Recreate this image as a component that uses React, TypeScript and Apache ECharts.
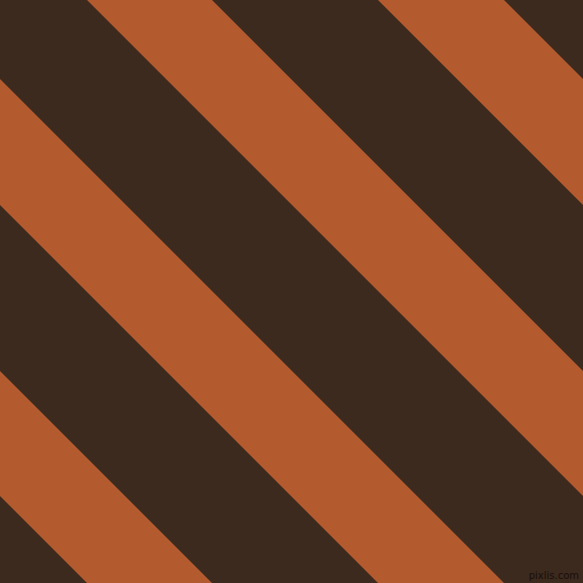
import { useEffect, useRef } from 'react';
import * as echarts from 'echarts';

// stripe bands as offsets of the line x - y = c (pixels of a 583 x 583 field)
const bandStarts = [-496, -205, 87, 378];
const bandEnds = [-371, -79, 212, 504];
const fieldSize = 583;

const App = () => {
  const chartRef = useRef<HTMLDivElement>(null);

  useEffect(() => {
    if (!chartRef.current) return;
    document.body.style.margin = '0';
    const chart = echarts.init(chartRef.current, null, { renderer: 'svg' });

    chart.setOption({
      animation: false,
      backgroundColor: '#3c2a1f',
      grid: { left: 0, right: 0, top: 0, bottom: 0 },
      xAxis: { type: 'value', min: 0, max: fieldSize, show: false },
      yAxis: { type: 'value', min: 0, max: fieldSize, inverse: true, show: false },
      series: [
        {
          type: 'custom',
          clip: true,
          data: bandStarts.map((s, i) => [s, bandEnds[i]]),
          renderItem: (_params: any, api: any) => {
            const a = api.value(0);
            const b = api.value(1);
            const pts = [
              [a - 600, -600],
              [b - 600, -600],
              [b + 1200, 1200],
              [a + 1200, 1200],
            ].map((p) => api.coord(p));
            return {
              type: 'polygon',
              shape: { points: pts },
              style: { fill: '#b35b2e' },
            };
          },
        },
      ],
      graphic: [
        {
          type: 'text',
          right: 4,
          bottom: 3,
          style: {
            text: 'pixlis.com',
            fill: '#1a0f08',
            font: '10px "DejaVu Sans"',
          },
        },
      ],
    });

    return () => {
      chart.dispose();
    };
  }, []);

  return <div ref={chartRef} style={{ width: '583px', height: '583px' }} />;
};

export default App;
